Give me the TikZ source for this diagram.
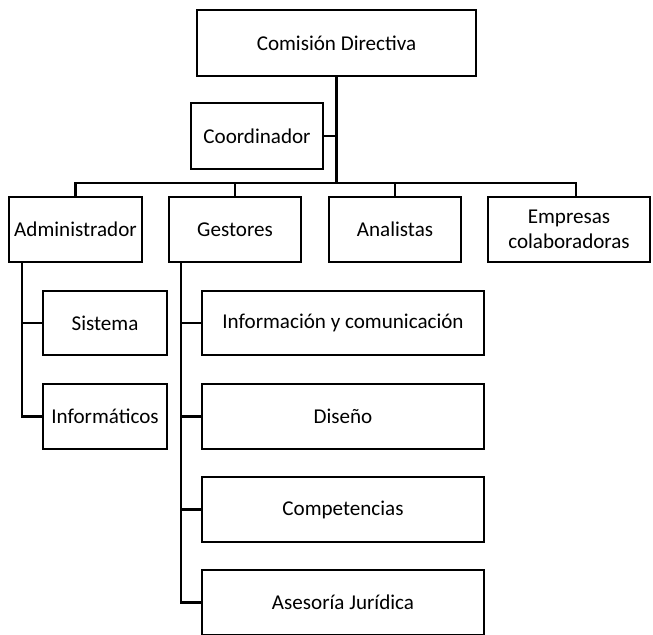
\documentclass[tikz,border=0pt]{standalone}
\usepackage{fontspec}
\setmainfont{Carlito}
\usepackage{tikz}

\tikzset{caja/.style={draw, line width=1.2pt, inner sep=2pt, align=center,
  font=\fontsize{12}{14.5}\selectfont}}

\begin{document}
\begin{tikzpicture}[line width=1.2pt]
\useasboundingbox (0,0) rectangle (13.06,-12.68);

\node[caja, minimum width=5.58cm, minimum height=1.32cm] (cd) at (6.73,-0.86) {Comisión Directiva};
\node[caja, minimum width=2.64cm, minimum height=1.32cm] (coord) at (5.14,-2.72) {Coordinador};

\node[caja, minimum width=2.66cm, minimum height=1.30cm] (adm) at (1.51,-4.59) {Administrador};
\node[caja, minimum width=2.64cm, minimum height=1.30cm] (ges) at (4.70,-4.59) {Gestores};
\node[caja, minimum width=2.64cm, minimum height=1.30cm] (ana) at (7.90,-4.59) {Analistas};
\node[caja, minimum width=3.24cm, minimum height=1.30cm] (emp) at (11.38,-4.59) {Empresas\\colaboradoras};

\node[caja, minimum width=2.48cm, minimum height=1.28cm] (sis) at (2.10,-6.46) {Sistema};
\node[caja, minimum width=2.48cm, minimum height=1.30cm] (inf) at (2.10,-8.33) {Informáticos};

\node[caja, minimum width=5.64cm, minimum height=1.28cm] (ic) at (6.86,-6.46) {Información y comunicación};
\node[caja, minimum width=5.64cm, minimum height=1.30cm] (dis) at (6.86,-8.33) {Diseño};
\node[caja, minimum width=5.64cm, minimum height=1.30cm] (com) at (6.86,-10.19) {Competencias};
\node[caja, minimum width=5.64cm, minimum height=1.30cm] (ase) at (6.86,-12.05) {Asesoría Jurídica};

% lineas
\coordinate (bus) at (0,-3.66);
\coordinate (bend) at (11.52,-3.66);
\draw (cd.south) -- (cd.south |- bus);
\draw (coord.east) -- (coord.east -| cd.south);
\draw (adm.north) |- (bend) -- (bend |- emp.north);
\draw (ges.north) -- (ges.north |- bus);
\draw (ana.north) -- (ana.north |- bus);

\coordinate (admline) at ([xshift=0.28cm]adm.south west);
\draw (admline) |- (inf.west);
\draw (sis.west) -- (sis.west -| admline);

\coordinate (gesline) at ([xshift=0.26cm]ges.south west);
\draw (gesline) |- (ase.west);
\foreach \n in {ic,dis,com}
  \draw (\n.west) -- (\n.west -| gesline);
\end{tikzpicture}
\end{document}
